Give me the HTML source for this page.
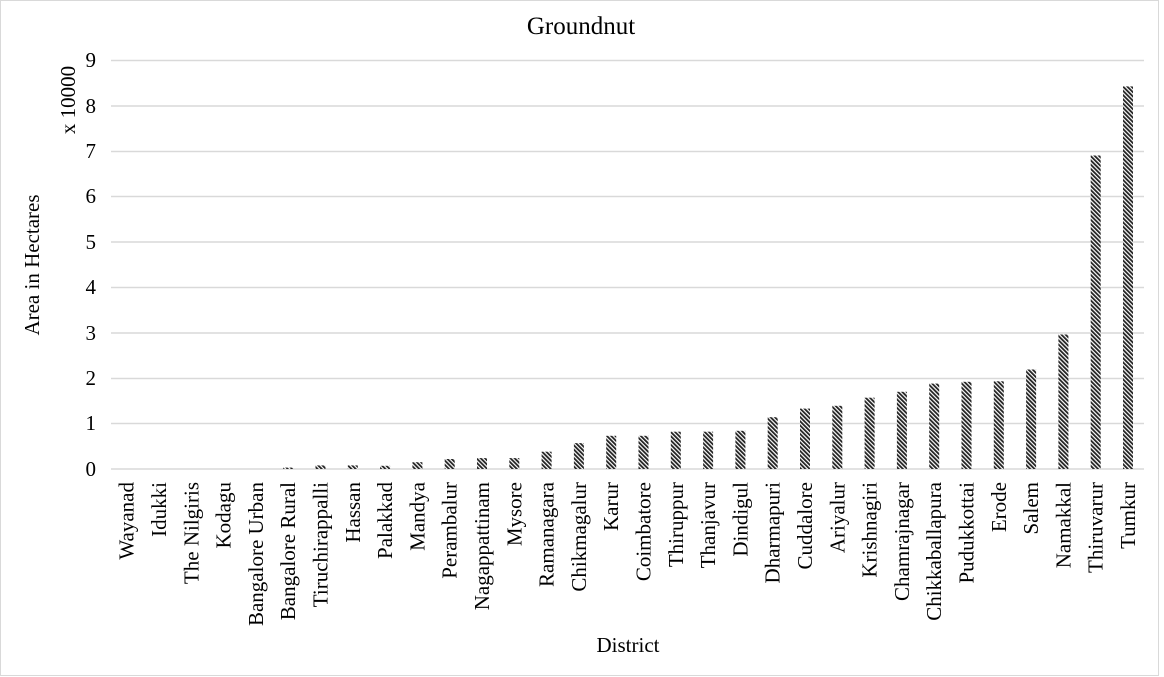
<!DOCTYPE html>
<html><head><meta charset="utf-8"><style>
html,body{margin:0;padding:0;background:#fff;}
svg{display:block;font-family:"Liberation Serif",serif;}
</style></head><body>
<svg width="1164" height="677" viewBox="0 0 1164 677" xmlns="http://www.w3.org/2000/svg">
<defs>
<pattern id="h" width="3" height="3" patternUnits="userSpaceOnUse" patternTransform="rotate(-45)">
<rect width="3" height="3" fill="#fff"/><rect width="1.8" height="3" fill="#222"/>
</pattern>
</defs>
<rect x="0.5" y="0.5" width="1158" height="675" fill="#fff" stroke="#d9d9d9"/>
<text x="581" y="34" font-size="25" text-anchor="middle">Groundnut</text>
<g stroke="#d9d9d9" stroke-width="1.5">
<line x1="111" x2="1144" y1="60.5" y2="60.5"/>
<line x1="111" x2="1144" y1="106" y2="106"/>
<line x1="111" x2="1144" y1="151.5" y2="151.5"/>
<line x1="111" x2="1144" y1="196.5" y2="196.5"/>
<line x1="111" x2="1144" y1="242" y2="242"/>
<line x1="111" x2="1144" y1="287.5" y2="287.5"/>
<line x1="111" x2="1144" y1="333" y2="333"/>
<line x1="111" x2="1144" y1="378.5" y2="378.5"/>
<line x1="111" x2="1144" y1="423.5" y2="423.5"/>
<line x1="111" x2="1144" y1="469" y2="469"/>
</g>
<g font-size="21" text-anchor="end">
<text x="96" y="67">9</text><text x="96" y="113">8</text><text x="96" y="158">7</text>
<text x="96" y="203">6</text><text x="96" y="249">5</text><text x="96" y="294">4</text>
<text x="96" y="340">3</text><text x="96" y="385">2</text><text x="96" y="430">1</text>
<text x="96" y="476">0</text>
</g>
<text transform="translate(75,100) rotate(-90)" font-size="21" text-anchor="middle">x 10000</text>
<text transform="translate(39,265) rotate(-90)" font-size="21" text-anchor="middle">Area in Hectares</text>
<text x="628" y="652" font-size="21" text-anchor="middle">District</text>
<g fill="url(#h)">
<rect x="283.2" y="467.6" width="10" height="1.4"/>
<rect x="315.5" y="465.4" width="10" height="3.6"/>
<rect x="347.8" y="465.4" width="10" height="3.6"/>
<rect x="380.1" y="465.8" width="10" height="3.2"/>
<rect x="412.4" y="462.2" width="10" height="6.8"/>
<rect x="444.7" y="459" width="10" height="10"/>
<rect x="477" y="458.1" width="10" height="10.9"/>
<rect x="509.3" y="458.1" width="10" height="10.9"/>
<rect x="541.6" y="451.7" width="10" height="17.3"/>
<rect x="573.9" y="443.1" width="10" height="25.9"/>
<rect x="606.2" y="435.8" width="10" height="33.2"/>
<rect x="638.5" y="435.8" width="10" height="33.2"/>
<rect x="670.8" y="431.7" width="10" height="37.3"/>
<rect x="703.1" y="431.7" width="10" height="37.3"/>
<rect x="735.4" y="430.8" width="10" height="38.2"/>
<rect x="767.7" y="417.2" width="10" height="51.8"/>
<rect x="800" y="408.6" width="10" height="60.4"/>
<rect x="832.3" y="405.8" width="10" height="63.2"/>
<rect x="864.6" y="397.7" width="10" height="71.3"/>
<rect x="896.9" y="391.8" width="10" height="77.2"/>
<rect x="929.2" y="383.6" width="10" height="85.4"/>
<rect x="961.5" y="381.8" width="10" height="87.2"/>
<rect x="993.8" y="381.3" width="10" height="87.7"/>
<rect x="1026.1" y="369.5" width="10" height="99.5"/>
<rect x="1058.4" y="334.5" width="10" height="134.5"/>
<rect x="1090.7" y="155.5" width="10" height="313.5"/>
<rect x="1123" y="86.4" width="10" height="382.6"/>
</g>
<g font-size="21" text-anchor="end">
<text transform="translate(133.7,482) rotate(-90)">Wayanad</text>
<text transform="translate(166,482) rotate(-90)">Idukki</text>
<text transform="translate(198.3,482) rotate(-90)">The Nilgiris</text>
<text transform="translate(230.6,482) rotate(-90)">Kodagu</text>
<text transform="translate(262.9,482) rotate(-90)">Bangalore Urban</text>
<text transform="translate(295.2,482) rotate(-90)">Bangalore Rural</text>
<text transform="translate(327.5,482) rotate(-90)">Tiruchirappalli</text>
<text transform="translate(359.8,482) rotate(-90)">Hassan</text>
<text transform="translate(392.1,482) rotate(-90)">Palakkad</text>
<text transform="translate(424.4,482) rotate(-90)">Mandya</text>
<text transform="translate(456.7,482) rotate(-90)">Perambalur</text>
<text transform="translate(489,482) rotate(-90)">Nagappattinam</text>
<text transform="translate(521.3,482) rotate(-90)">Mysore</text>
<text transform="translate(553.6,482) rotate(-90)">Ramanagara</text>
<text transform="translate(585.9,482) rotate(-90)">Chikmagalur</text>
<text transform="translate(618.2,482) rotate(-90)">Karur</text>
<text transform="translate(650.5,482) rotate(-90)">Coimbatore</text>
<text transform="translate(682.8,482) rotate(-90)">Thiruppur</text>
<text transform="translate(715.1,482) rotate(-90)">Thanjavur</text>
<text transform="translate(747.4,482) rotate(-90)">Dindigul</text>
<text transform="translate(779.7,482) rotate(-90)">Dharmapuri</text>
<text transform="translate(812,482) rotate(-90)">Cuddalore</text>
<text transform="translate(844.3,482) rotate(-90)">Ariyalur</text>
<text transform="translate(876.6,482) rotate(-90)">Krishnagiri</text>
<text transform="translate(908.9,482) rotate(-90)">Chamrajnagar</text>
<text transform="translate(941.2,482) rotate(-90)">Chikkaballapura</text>
<text transform="translate(973.5,482) rotate(-90)">Pudukkottai</text>
<text transform="translate(1005.8,482) rotate(-90)">Erode</text>
<text transform="translate(1038.1,482) rotate(-90)">Salem</text>
<text transform="translate(1070.4,482) rotate(-90)">Namakkal</text>
<text transform="translate(1102.7,482) rotate(-90)">Thiruvarur</text>
<text transform="translate(1135,482) rotate(-90)">Tumkur</text>
</g>
</svg>
</body></html>
